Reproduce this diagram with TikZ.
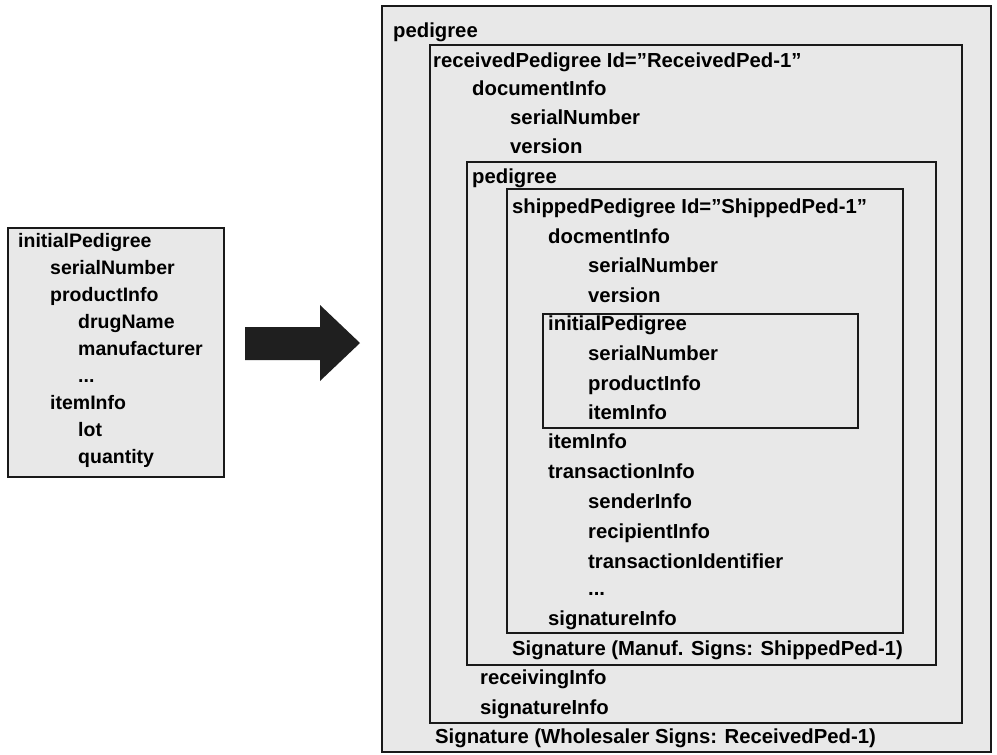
\documentclass[tikz,border=0pt]{standalone}
\usepackage{fontspec}
\setmainfont{Liberation Sans}
\newcommand{\dq}{\symbol{"22}}
\begin{document}
\begin{tikzpicture}[x=1pt,y=-1pt,
  frame/.style={draw=black!90, line width=2.2pt, fill=black!9},
  entry/.style={anchor=west, inner sep=0pt, text height=14.5pt, text depth=4pt,
    font=\fontsize{20.3}{24}\selectfont\bfseries},
  lentry/.style={entry, font=\fontsize{19.5}{23}\selectfont\bfseries}]
\useasboundingbox (0,0) rectangle (997,755);

% ---- initial pedigree document (left) ----
\draw[frame] (8,228) rectangle (224,477);
\node[lentry] (l0) at (18,242) {initialPedigree};
\node[lentry] (l1) at (50,269) {serialNumber};
\node[lentry] (l2) at (50,296) {productInfo};
\node[lentry] (l3) at (78,323) {drugName};
\node[lentry] (l4) at (78,350) {manufacturer};
\node[lentry] (l5) at (78,377) {...};
\node[lentry] (l6) at (50,404) {itemInfo};
\node[lentry] (l7) at (78,431) {lot};
\node[lentry] (l8) at (78,458) {quantity};

% ---- block arrow ----
\fill[black!88] (245,327) -- (320,327) -- (320,305) -- (360,343)
  -- (320,381) -- (320,360) -- (245,360) -- cycle;

% ---- nested pedigree document (right) ----
\draw[frame] (382,6) rectangle (991,752);
\draw[frame] (430,45) rectangle (962,723);
\draw[frame] (467,162) rectangle (936,665);
\draw[frame] (507,189) rectangle (903,633);
\draw[frame] (543,314) rectangle (858,428);

\node[entry] (r0)  at (393,32)  {pedigree};
\node[entry] (r1)  at (433,62)  {receivedPedigree Id=\dq ReceivedPed-1\dq};
\node[entry] (r2)  at (472,90)  {documentInfo};
\node[entry] (r3)  at (510,119) {serialNumber};
\node[entry] (r4)  at (510,148) {version};
\node[entry] (r5)  at (472,178) {pedigree};
\node[entry] (r6)  at (512,208) {shippedPedigree Id=\dq ShippedPed-1\dq};
\node[entry] (r7)  at (548,238) {docmentInfo};
\node[entry] (r8)  at (588,267) {serialNumber};
\node[entry] (r9)  at (588,297) {version};
\node[entry] (r10) at (548,325) {initialPedigree};
\node[entry] (r11) at (588,355) {serialNumber};
\node[entry] (r12) at (588,385) {productInfo};
\node[entry] (r13) at (588,414) {itemInfo};
\node[entry] (r14) at (548,443) {itemInfo};
\node[entry] (r15) at (548,473) {transactionInfo};
\node[entry] (r16) at (588,503) {senderInfo};
\node[entry] (r17) at (588,533) {recipientInfo};
\node[entry] (r18) at (588,563) {transactionIdentifier};
\node[entry] (r19) at (588,590) {...};
\node[entry] (r20) at (548,620) {signatureInfo};
\node[entry] (r21) at (512,650) {Signature (Manuf. Signs: ShippedPed-1)};
\node[entry] (r22) at (480,679) {receivingInfo};
\node[entry] (r23) at (480,709) {signatureInfo};
\node[entry] (r24) at (435,738) {Signature (Wholesaler Signs: ReceivedPed-1)};
\end{tikzpicture}
\end{document}
